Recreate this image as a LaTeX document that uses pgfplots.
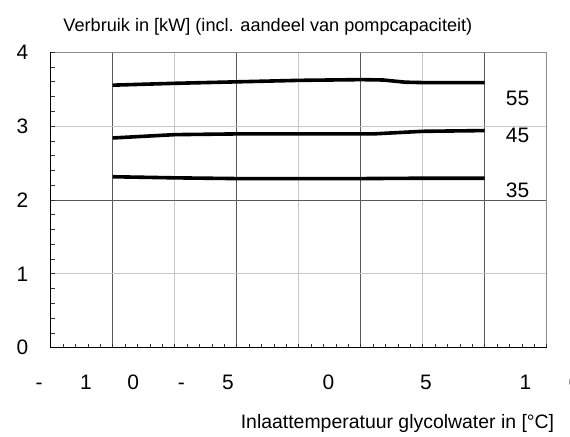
\documentclass[border=0pt]{standalone}
\usepackage{fontspec}
\setmainfont{Liberation Sans}
\usepackage{pgfplots}
\pgfplotsset{compat=1.18}
\definecolor{gdark}{HTML}{5A5A5A}
\definecolor{glight}{HTML}{C8C8C8}
\definecolor{frameg}{HTML}{8C8C8C}
\begin{document}
\begin{tikzpicture}
\begin{axis}[name=main, scale only axis, width=496bp, height=295.4bp,
  xmin=-10, xmax=10, ymin=0, ymax=4, clip=false,
  axis line style={frameg, line width=1bp},
  /pgf/number format/assume math mode=true,
  tick label style={font=\fontsize{21}{24}\selectfont},
  xtick={-7.5,-2.5,2.5,7.5}, xticklabels={},
  minor xtick={-5,0,5},
  ytick={2}, yticklabels={}, minor ytick={1,3},
  grid=both,
  major grid style={gdark, line width=0.9bp},
  minor grid style={glight, line width=0.9bp},
  major tick length=0pt, minor tick length=0pt,
  extra x ticks={-8.577,-6.669,-4.730,-2.851,1.202,5.133,9.145},
  extra x tick labels={1,0,-,5,0,5,1},
  extra x tick style={grid=none, major tick length=0pt,
     xticklabel style={anchor=base, yshift=-42bp}},
  extra y ticks={0,1,2,3,4},
  extra y tick labels={0,1,2,3,4},
  extra y tick style={grid=none, major tick length=0pt,
     yticklabel style={anchor=center, xshift=-28.2bp}},
]
\addplot[black, line width=3.6bp, line join=round] coordinates {
 (-7.5,3.555) (-5,3.58) (-2.5,3.60) (0,3.62) (2.5,3.63) (3.4,3.625) (4.3,3.595) (5,3.59) (7.5,3.59)};
\addplot[black, line width=3.6bp, line join=round] coordinates {
 (-7.5,2.84) (-5,2.885) (-2.5,2.895) (0,2.895) (2.5,2.895) (3,2.895) (5,2.93) (7.5,2.94)};
\addplot[black, line width=3.6bp, line join=round] coordinates {
 (-7.5,2.315) (-5,2.30) (-2.5,2.29) (0,2.29) (2.5,2.29) (5,2.295) (7.5,2.295)};
\node[font=\fontsize{21}{24}\selectfont] at (axis cs:8.823,3.381) {55};
\node[font=\fontsize{21}{24}\selectfont] at (axis cs:8.823,2.880) {45};
\node[font=\fontsize{21}{24}\selectfont] at (axis cs:8.823,2.129) {35};
\node[anchor=base, font=\fontsize{21}{24}\selectfont] at (axis cs:-10.472,0) [yshift=-42bp] {-};
\node[anchor=base, font=\fontsize{21}{24}\selectfont] at (axis cs:11.13,0) [yshift=-42bp] {0};
\node[anchor=base, font=\fontsize{18.2}{22}\selectfont] at (axis cs:-1.242,4) [yshift=20.6bp] {Verbruik in [kW] (incl. aandeel van pompcapaciteit)};
\node[anchor=base, font=\fontsize{19.5}{23}\selectfont] at (axis cs:3.984,0) [yshift=-80.6bp] {Inlaattemperatuur glycolwater in [°C]};
\end{axis}
\begin{axis}[at={(main.south west)}, anchor=south west, scale only axis,
  width=496bp, height=295.4bp,
  xmin=-10, xmax=10, ymin=0, ymax=4,
  axis x line*=bottom, axis y line*=left,
  axis line style={black, line width=1.3bp, -},
  xtick={-10,-9.5,...,10}, ytick={0,0.2,...,4},
  xticklabels={}, yticklabels={},
  tick align=inside, major tick length=4bp,
  tick style={black!80, line width=0.8bp},
]
\end{axis}
\pgfresetboundingbox
\useasboundingbox ([shift={(-50.7bp,-89.3bp)}]main.south west) rectangle ([shift={(519.3bp,347.7bp)}]main.south west);
\end{tikzpicture}
\end{document}
